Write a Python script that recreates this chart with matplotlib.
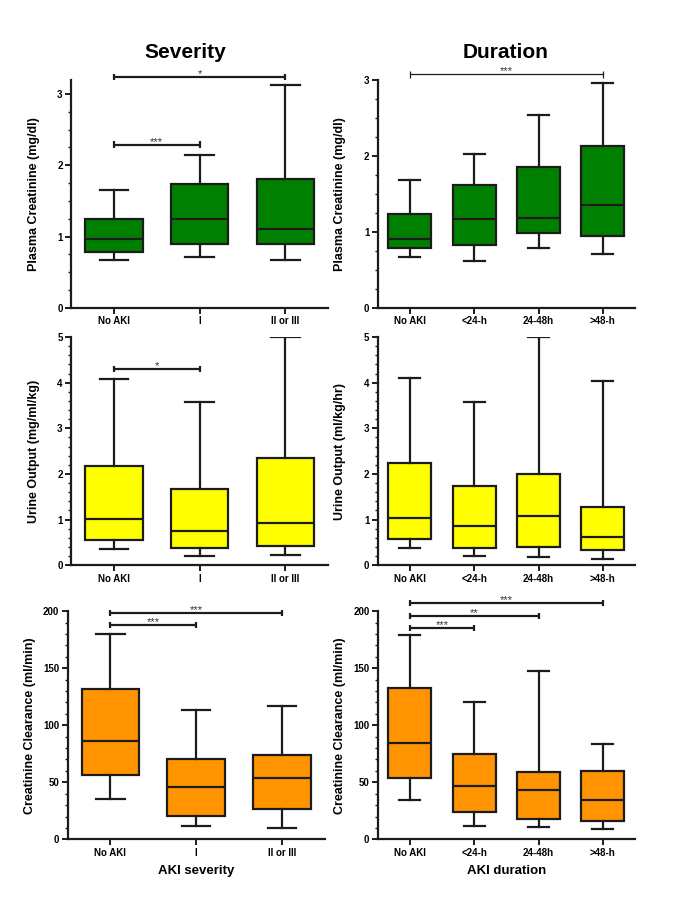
import matplotlib
matplotlib.use('Agg')
import matplotlib.pyplot as plt
from matplotlib.ticker import MultipleLocator, FixedLocator

plt.rcParams['font.family'] = ['Liberation Sans', 'DejaVu Sans']

# ---------------- data ----------------
sev_cats = ['No AKI', 'I', 'II or III']
dur_cats = ['No AKI', '<24-h', '24-48h', '>48-h']

# Plasma creatinine (mg/dl) by severity
pc_sev_low = [0.67, 0.71, 0.67]
pc_sev_q1 = [0.78, 0.90, 0.90]
pc_sev_med = [0.96, 1.24, 1.11]
pc_sev_q3 = [1.24, 1.73, 1.80]
pc_sev_high = [1.65, 2.15, 3.13]
pc_sev_sig = [(0, 1, 2.29, '***'), (0, 2, 3.24, '*')]

# Plasma creatinine (mg/dl) by duration
pc_dur_low = [0.67, 0.61, 0.78, 0.71]
pc_dur_q1 = [0.78, 0.83, 0.98, 0.95]
pc_dur_med = [0.91, 1.17, 1.18, 1.35]
pc_dur_q3 = [1.23, 1.62, 1.85, 2.13]
pc_dur_high = [1.68, 2.02, 2.54, 2.96]
pc_dur_sig = [(0, 3, 3.07, '***')]

# Urine output by severity
uo_sev_low = [0.36, 0.21, 0.23]
uo_sev_q1 = [0.56, 0.37, 0.42]
uo_sev_med = [1.01, 0.75, 0.92]
uo_sev_q3 = [2.18, 1.68, 2.34]
uo_sev_high = [4.08, 3.58, 5.0]
uo_sev_sig = [(0, 1, 4.3, '*')]

# Urine output by duration
uo_dur_low = [0.38, 0.20, 0.19, 0.14]
uo_dur_q1 = [0.58, 0.38, 0.39, 0.33]
uo_dur_med = [1.03, 0.87, 1.08, 0.62]
uo_dur_q3 = [2.23, 1.73, 1.99, 1.28]
uo_dur_high = [4.10, 3.57, 5.0, 4.04]
uo_dur_sig = []

# Creatinine clearance (ml/min) by severity
cc_sev_low = [35.3, 11.7, 10.2]
cc_sev_q1 = [56.0, 20.7, 26.2]
cc_sev_med = [86.3, 46.1, 53.6]
cc_sev_q3 = [132.1, 70.8, 73.8]
cc_sev_high = [180.2, 113.1, 116.6]
cc_sev_sig = [(0, 1, 188.1, '***'), (0, 2, 198.3, '***')]

# Creatinine clearance (ml/min) by duration
cc_dur_low = [34.7, 11.8, 11.2, 9.1]
cc_dur_q1 = [53.8, 24.1, 17.6, 16.5]
cc_dur_med = [84.7, 47.1, 43.5, 34.7]
cc_dur_q3 = [132.4, 74.7, 58.8, 60.3]
cc_dur_high = [178.8, 120.0, 147.4, 83.8]
cc_dur_sig = [(0, 1, 185.3, '***'), (0, 2, 195.6, '**'), (0, 3, 207.4, '***')]

# ---------------- style ----------------
LC = '#1c1c1c'
GREEN = '#008000'
YELLOW = '#ffff00'
ORANGE = '#ff9400'

fig = plt.figure(figsize=(6.85, 9.0), dpi=100)

col_x = [0.1036, 0.5514]
col_w = 0.3756
row_b = [0.658, 0.372, 0.0674]
row_h = 0.2535


def draw(ax, cats, low, q1, med, q3, high, color, ylim, major, minor,
         ylabel, sig, sig_lw, xlabel=None):
    n = len(cats)
    stats = [dict(whislo=low[k], q1=q1[k], med=med[k], q3=q3[k],
                  whishi=high[k], label=cats[k]) for k in range(n)]
    ax.bxp(stats, positions=list(range(n)), widths=0.67, capwidths=0.33,
           patch_artist=True, showfliers=False,
           boxprops=dict(facecolor=color, edgecolor=LC, linewidth=1.6),
           medianprops=dict(color=LC, linewidth=1.6),
           whiskerprops=dict(color=LC, linewidth=1.6),
           capprops=dict(color=LC, linewidth=1.6))
    ax.set_xlim(-0.5, n - 0.5)
    ax.set_ylim(*ylim)
    ax.yaxis.set_major_locator(FixedLocator(major))
    ax.yaxis.set_minor_locator(MultipleLocator(minor))
    for s in ('top', 'right'):
        ax.spines[s].set_visible(False)
    for s in ('left', 'bottom'):
        ax.spines[s].set_linewidth(1.6)
        ax.spines[s].set_color(LC)
    ax.tick_params(axis='both', which='major', direction='out', length=4,
                   width=1.4, color=LC, labelsize=7, pad=2)
    ax.tick_params(axis='y', which='minor', direction='out', length=2.5,
                   width=1.0, color=LC)
    ax.set_xticks(list(range(n)))
    ax.set_xticklabels(cats, fontweight='bold', fontsize=7)
    for t in ax.get_yticklabels():
        t.set_fontweight('bold')
    ax.set_ylabel(ylabel, fontsize=9, fontweight='bold')
    ax.yaxis.set_label_coords(-0.122, 0.5)
    if xlabel:
        ax.set_xlabel(xlabel, fontsize=9.5, fontweight='bold', labelpad=5)
    rng = ylim[1] - ylim[0]
    d = rng * 3.2 / 228.0
    for (i, j, y, lab) in sig:
        ax.plot([i, j], [y, y], color=LC, lw=sig_lw, clip_on=False,
                solid_capstyle='butt')
        for x in (i, j):
            ax.plot([x, x], [y - d, y + d], color=LC, lw=sig_lw,
                    clip_on=False, solid_capstyle='butt')
        ax.annotate(lab, xy=((i + j) / 2, y), xytext=(0, -1.5),
                    textcoords='offset points', ha='center', va='bottom',
                    fontsize=8, color='#333333', annotation_clip=False)


ax1 = fig.add_axes([col_x[0], row_b[0], col_w, row_h])
draw(ax1, sev_cats, pc_sev_low, pc_sev_q1, pc_sev_med, pc_sev_q3, pc_sev_high,
     GREEN, (0, 3.2), [0, 1, 2, 3], 0.25, 'Plasma Creatinine (mg/dl)',
     pc_sev_sig, 1.6)

ax2 = fig.add_axes([col_x[1], row_b[0], col_w, row_h])
draw(ax2, dur_cats, pc_dur_low, pc_dur_q1, pc_dur_med, pc_dur_q3, pc_dur_high,
     GREEN, (0, 3.0), [0, 1, 2, 3], 0.25, 'Plasma Creatinine (mg/dl)',
     pc_dur_sig, 0.9)

ax3 = fig.add_axes([col_x[0], row_b[1], col_w, row_h])
draw(ax3, sev_cats, uo_sev_low, uo_sev_q1, uo_sev_med, uo_sev_q3, uo_sev_high,
     YELLOW, (0, 5.0), [0, 1, 2, 3, 4, 5], 0.2, 'Urine Output (mg/ml/kg)',
     uo_sev_sig, 1.6)

ax4 = fig.add_axes([col_x[1], row_b[1], col_w, row_h])
draw(ax4, dur_cats, uo_dur_low, uo_dur_q1, uo_dur_med, uo_dur_q3, uo_dur_high,
     YELLOW, (0, 5.0), [0, 1, 2, 3, 4, 5], 0.2, 'Urine Output (ml/kg/hr)',
     uo_dur_sig, 1.6)

ax5 = fig.add_axes([col_x[0] - 0.005, row_b[2], col_w, row_h])
draw(ax5, sev_cats, cc_sev_low, cc_sev_q1, cc_sev_med, cc_sev_q3, cc_sev_high,
     ORANGE, (0, 200), [0, 50, 100, 150, 200], 10,
     'Creatinine Clearance (ml/min)', cc_sev_sig, 1.6, xlabel='AKI severity')

ax6 = fig.add_axes([col_x[1], row_b[2], col_w, row_h])
draw(ax6, dur_cats, cc_dur_low, cc_dur_q1, cc_dur_med, cc_dur_q3, cc_dur_high,
     ORANGE, (0, 200), [0, 50, 100, 150, 200], 10,
     'Creatinine Clearance (ml/min)', cc_dur_sig, 1.6, xlabel='AKI duration')

fig.text(0.271, 0.942, 'Severity', ha='center', va='center', fontsize=15,
         fontweight='bold')
fig.text(0.738, 0.942, 'Duration', ha='center', va='center', fontsize=15,
         fontweight='bold')

fig.savefig('out.png', dpi=100, facecolor='white')
